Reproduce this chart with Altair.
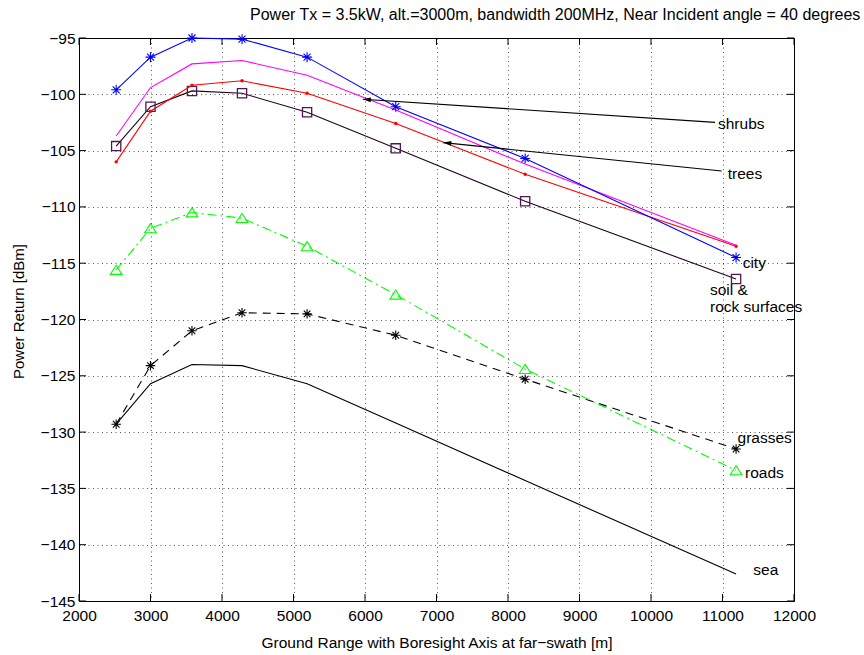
import math
import altair as alt
import pandas as pd

# ---------------- data ----------------
ground_range = [2520, 3000, 3580, 4280, 5190, 6430, 8240, 11190]
city = [-99.6, -96.7, -95.0, -95.1, -96.7, -101.1, -105.7, -114.5]
shrubs = [-103.7, -99.4, -97.3, -97.0, -98.3, -101.4, -106.2, -113.4]
trees = [-106.0, -101.5, -99.2, -98.8, -99.9, -102.6, -107.1, -113.5]
soil = [-104.6, -101.1, -99.7, -99.9, -101.6, -104.8, -109.5, -116.4]
roads = [-115.6, -111.9, -110.5, -111.0, -113.5, -117.8, -124.4, -133.4]
grasses = [-129.3, -124.1, -121.0, -119.4, -119.5, -121.4, -125.3, -131.5]
sea = [-129.3, -125.7, -124.0, -124.1, -125.7, -129.2, -134.3, -142.6]

x_ticks = [2000, 3000, 4000, 5000, 6000, 7000, 8000, 9000, 10000, 11000, 12000]
y_ticks = [-145, -140, -135, -130, -125, -120, -115, -110, -105, -100, -95]

label_text = ["shrubs", "trees", "city", "soil &", "rock surfaces", "grasses", "roads", "sea"]
label_x = [10937, 11073, 11282, 10825, 10825, 11211, 11315, 11431]
label_y = [-102.66, -107.1, -114.98, -117.34, -118.9, -130.49, -133.6, -142.27]

arrow_name = ["shrubs", "trees"]
arrow_x_from = [10895, 10989]
arrow_y_from = [-102.49, -106.81]
arrow_x_to = [5970, 7095]
arrow_y_to = [-100.44, -104.29]

title_text = "Power Tx = 3.5kW, alt.=3000m, bandwidth 200MHz, Near Incident angle = 40 degrees"

# ---------------- layout ----------------
W, H = 715, 563
XDOM = [2000, 12000]
YDOM = [-145, -95]
FONT = "Liberation Sans"
FS = 15.5

xs = alt.Scale(domain=XDOM, nice=False, zero=False)
ys = alt.Scale(domain=YDOM, nice=False, zero=False)

series = {
    "city": city, "shrubs": shrubs, "trees": trees, "soil": soil,
    "roads": roads, "grasses": grasses, "sea": sea,
}
rows = []
for name, vals in series.items():
    for gx, gy in zip(ground_range, vals):
        rows.append({"series": name, "x": gx, "y": gy})
df = pd.DataFrame(rows)

x_axis = alt.Axis(
    values=x_ticks, format="d", ticks=False, domain=False, grid=True,
    gridDash=[1, 3.5], gridColor="#000000", gridOpacity=0.65, gridWidth=1,
    labelFont=FONT, labelFontSize=FS, labelColor="#000000", labelPadding=7,
    labelBaseline="top", labelFlush=False, labelOverlap=False,
    title="Ground Range with Boresight Axis at far\u2212swath [m]",
    titleFont=FONT, titleFontSize=FS, titleFontWeight="normal", titleColor="#000000",
    titleX=W / 2, titleY=41, titleBaseline="middle", titleAlign="center",
)
y_axis = alt.Axis(
    values=y_ticks, format="d", ticks=False, domain=False, grid=True,
    gridDash=[1, 3.5], gridColor="#000000", gridOpacity=0.65, gridWidth=1,
    labelFont=FONT, labelFontSize=FS, labelColor="#000000", labelPadding=4,
    labelBaseline="middle", labelFlush=False, labelOverlap=False,
    title="Power Return [dBm]",
    titleFont=FONT, titleFontSize=FS - 0.5, titleFontWeight="normal", titleColor="#000000",
    titleX=-61, titleY=273, titleBaseline="middle", titleAlign="center", titleAngle=270,
)


def X(f="x"):
    return alt.X(f"{f}:Q", scale=xs, axis=x_axis)


def Y(f="y"):
    return alt.Y(f"{f}:Q", scale=ys, axis=y_axis)


layers = []

# inward ticks on four sides
xt = pd.DataFrame({"x": x_ticks})
yt = pd.DataFrame({"y": y_ticks})
TL = 7
layers.append(alt.Chart(xt).mark_rule(color="black", strokeWidth=1).encode(
    x=X(), y=alt.value(H), y2=alt.value(H - TL)))
layers.append(alt.Chart(xt).mark_rule(color="black", strokeWidth=1).encode(
    x=X(), y=alt.value(0), y2=alt.value(TL)))
layers.append(alt.Chart(yt).mark_rule(color="black", strokeWidth=1).encode(
    y=Y(), x=alt.value(0), x2=alt.value(TL)))
layers.append(alt.Chart(yt).mark_rule(color="black", strokeWidth=1).encode(
    y=Y(), x=alt.value(W), x2=alt.value(W - TL)))

LW = 1.1


def line(name, color, dash=None):
    kw = dict(color=color, strokeWidth=LW)
    if dash:
        kw["strokeDash"] = dash
    return (alt.Chart(df).transform_filter(alt.datum.series == name)
            .mark_line(**kw).encode(x=X(), y=Y(), order="x:Q"))


def pts(name, color, shape, size, filled=False, sw=1.1):
    return (alt.Chart(df).transform_filter(alt.datum.series == name)
            .mark_point(shape=shape, size=size, filled=filled, color=color,
                        strokeWidth=sw, opacity=1)
            .encode(x=X(), y=Y()))


ASTER = "M0,-1L0,1M-1,0L1,0M-0.7,-0.7L0.7,0.7M-0.7,0.7L0.7,-0.7"
TRI = "M0,-0.8L1,0.75L-1,0.75Z"

layers += [
    line("sea", "#000000"),
    line("grasses", "#000000", [8, 6]),
    pts("grasses", "#000000", ASTER, 90),
    line("roads", "#00ff00", [9, 4, 2, 4]),
    pts("roads", "#00ff00", TRI, 137),
    line("soil", "#1e001e"),
    pts("soil", "#501850", "square", 85, sw=1.3),
    line("trees", "#ff0000"),
    pts("trees", "#ff0000", "circle", 12, filled=True),
    line("shrubs", "#ff00ff"),
    line("city", "#0000ff"),
    pts("city", "#0000ff", ASTER, 100),
]

# annotation arrows
ang = []
for x0, y0, x1, y1 in zip(arrow_x_from, arrow_y_from, arrow_x_to, arrow_y_to):
    px0 = (x0 - XDOM[0]) / (XDOM[1] - XDOM[0]) * W
    px1 = (x1 - XDOM[0]) / (XDOM[1] - XDOM[0]) * W
    py0 = (YDOM[1] - y0) / (YDOM[1] - YDOM[0]) * H
    py1 = (YDOM[1] - y1) / (YDOM[1] - YDOM[0]) * H
    dx, dy = px1 - px0, py1 - py0
    n = math.hypot(dx, dy)
    ang.append(math.degrees(math.atan2(dx / n, -dy / n)) % 360)

arrows = pd.DataFrame({
    "name": arrow_name, "x": arrow_x_from, "y": arrow_y_from,
    "x2": arrow_x_to, "y2": arrow_y_to, "angle": ang,
})
layers.append(alt.Chart(arrows).mark_rule(color="black", strokeWidth=LW).encode(
    x=X(), y=Y(), x2="x2:Q", y2="y2:Q"))
HEAD = "M0,0L0.6,2L-0.6,2Z"
layers.append(alt.Chart(arrows).mark_point(shape=HEAD, size=64, filled=True,
                                           color="black", opacity=1).encode(
    x=X("x2"), y=Y("y2"), angle=alt.Angle("angle:Q", scale=None)))

labels = pd.DataFrame({"text": label_text, "x": label_x, "y": label_y})
layers.append(alt.Chart(labels).mark_text(
    font=FONT, fontSize=FS, color="black", align="left", baseline="middle"
).encode(x=X(), y=Y(), text="text:N"))

chart = alt.layer(*layers).properties(
    width=W, height=H,
    background="white",
    title=alt.TitleParams(title_text, anchor="start", frame="group", dx=171,
                          font=FONT, fontSize=16, fontWeight="normal",
                          color="black", offset=8),
    autosize=alt.AutoSizeParams(type="none"),
    padding={"left": 79, "top": 38, "right": 70, "bottom": 54},
).configure_view(stroke="black", strokeWidth=1)

chart.save("out.html", embed_options={"renderer": "svg", "actions": False})
